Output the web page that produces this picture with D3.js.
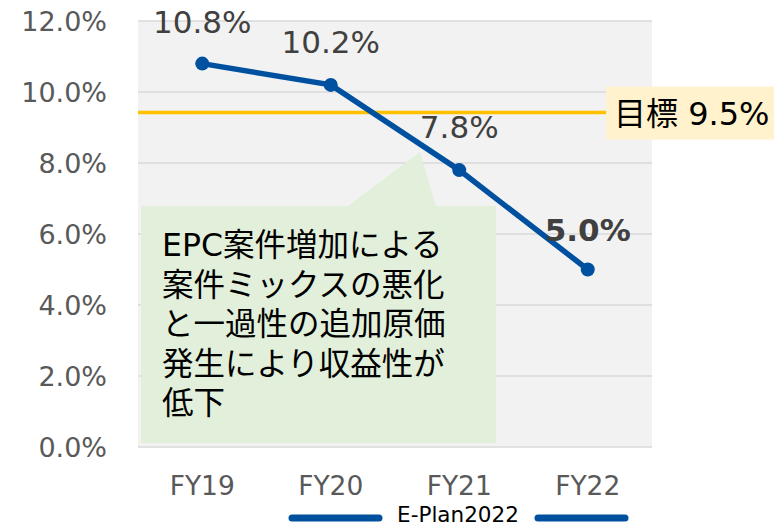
<!DOCTYPE html>
<html>
<head>
<meta charset="utf-8">
<script src="https://cdn.jsdelivr.net/npm/d3@7"></script>
<style>
  body { margin: 0; background: white; }
  svg { display: block; font-family: "DejaVu Sans", "Noto Sans CJK JP", sans-serif; }
</style>
</head>
<body>
<svg id="chart"></svg>
<script>
const years = ["FY19", "FY20", "FY21", "FY22"];
const margins = [10.8, 10.2, 7.8, 5.0];
const yTicks = [0, 2, 4, 6, 8, 10, 12];
const targetValue = 9.42;
const targetLabel = "目標 9.5%";
const noteLines = ["EPC案件増加による", "案件ミックスの悪化", "と一過性の追加原価", "発生により収益性が", "低下"];
const legendLabel = "E-Plan2022";

const W = 774, H = 528;
const margin = {top: 21, right: 122, bottom: 81, left: 138},
    width = W - margin.left - margin.right,
    height = H - margin.top - margin.bottom;

const root = d3.select("#chart").attr("width", W).attr("height", H);
const svg = root.append("g").attr("transform", `translate(${margin.left},${margin.top})`);

const x = d3.scaleBand().domain(years).range([0, width]);
const y = d3.scaleLinear().domain([0, 12]).range([height, 0]);
const cx = d => x(d) + x.bandwidth() / 2;

// plot background
svg.append("rect")
    .attr("width", width).attr("height", height)
    .attr("fill", "#f2f2f2");

// gridlines
svg.append("g").selectAll("line").data(yTicks).join("line")
    .attr("x1", 0).attr("x2", width)
    .attr("y1", d => y(d)).attr("y2", d => y(d))
    .attr("stroke", "#d9d9d9").attr("stroke-width", 1.5);

// y labels
svg.append("g").selectAll("text").data(yTicks).join("text")
    .attr("x", -31).attr("y", d => y(d))
    .attr("dy", "0.36em")
    .attr("text-anchor", "end")
    .attr("font-size", 27)
    .attr("fill", "#595959")
    .text(d => d3.format(".1f")(d) + "%");

// x labels
svg.append("g").selectAll("text").data(years).join("text")
    .attr("x", d => cx(d)).attr("y", height + 48)
    .attr("text-anchor", "middle")
    .attr("font-size", 26.5)
    .attr("fill", "#595959")
    .text(d => d);

// callout
const calloutLeft = 3, calloutRight = 358, calloutTop = 185, calloutBottom = 422;
const tip = [x("FY21") + 25, y(8.0) - 11];
svg.append("path")
    .attr("d", `M${calloutLeft},${calloutTop} L210,${calloutTop} L${tip[0]},${tip[1]} L298,${calloutTop} L${calloutRight},${calloutTop} L${calloutRight},${calloutBottom} L${calloutLeft},${calloutBottom} Z`)
    .attr("fill", "#e2efda");

svg.append("g").selectAll("text").data(noteLines).join("text")
    .attr("x", 24)
    .attr("y", (d, i) => 235 + i * 39.5)
    .attr("font-size", 31.5)
    .attr("fill", "#000")
    .text(d => d);

// target line
svg.append("line")
    .attr("x1", 0).attr("x2", 468)
    .attr("y1", y(targetValue)).attr("y2", y(targetValue))
    .attr("stroke", "#ffc000").attr("stroke-width", 3.5);

svg.append("rect")
    .attr("x", 468).attr("y", y(targetValue) - 26)
    .attr("width", 168).attr("height", 53)
    .attr("fill", "#fff2cc");

svg.append("text")
    .attr("x", 476).attr("y", y(targetValue) + 12)
    .attr("font-size", 32)
    .attr("fill", "#000")
    .text(targetLabel);

// data line
const line = d3.line().x((d, i) => cx(years[i])).y(d => y(d));
svg.append("path")
    .datum(margins)
    .attr("fill", "none")
    .attr("stroke", "#0050a0")
    .attr("stroke-width", 5.5)
    .attr("d", line);

svg.append("g").selectAll("circle").data(margins).join("circle")
    .attr("cx", (d, i) => cx(years[i]))
    .attr("cy", d => y(d))
    .attr("r", 7)
    .attr("fill", "#0050a0");

// data labels
const labelOffsets = [-31, -32, -32, -29];
svg.append("g").selectAll("text").data(margins).join("text")
    .attr("x", (d, i) => cx(years[i]))
    .attr("y", (d, i) => y(d) + labelOffsets[i])
    .attr("text-anchor", "middle")
    .attr("font-size", 31)
    .attr("font-weight", (d, i) => i === margins.length - 1 ? "bold" : "normal")
    .attr("fill", "#404040")
    .text(d => d3.format(".1f")(d) + "%");

// legend bracket
const legY = H - 10;
const legend = root.append("g");
legend.append("line")
    .attr("x1", 292).attr("x2", 379).attr("y1", legY).attr("y2", legY)
    .attr("stroke", "#0050a0").attr("stroke-width", 7).attr("stroke-linecap", "round");
legend.append("line")
    .attr("x1", 538).attr("x2", 625).attr("y1", legY).attr("y2", legY)
    .attr("stroke", "#0050a0").attr("stroke-width", 7).attr("stroke-linecap", "round");
legend.append("text")
    .attr("x", 458).attr("y", legY + 4)
    .attr("text-anchor", "middle")
    .attr("font-size", 21.5)
    .attr("fill", "#000")
    .text(legendLabel);
</script>
</body>
</html>
